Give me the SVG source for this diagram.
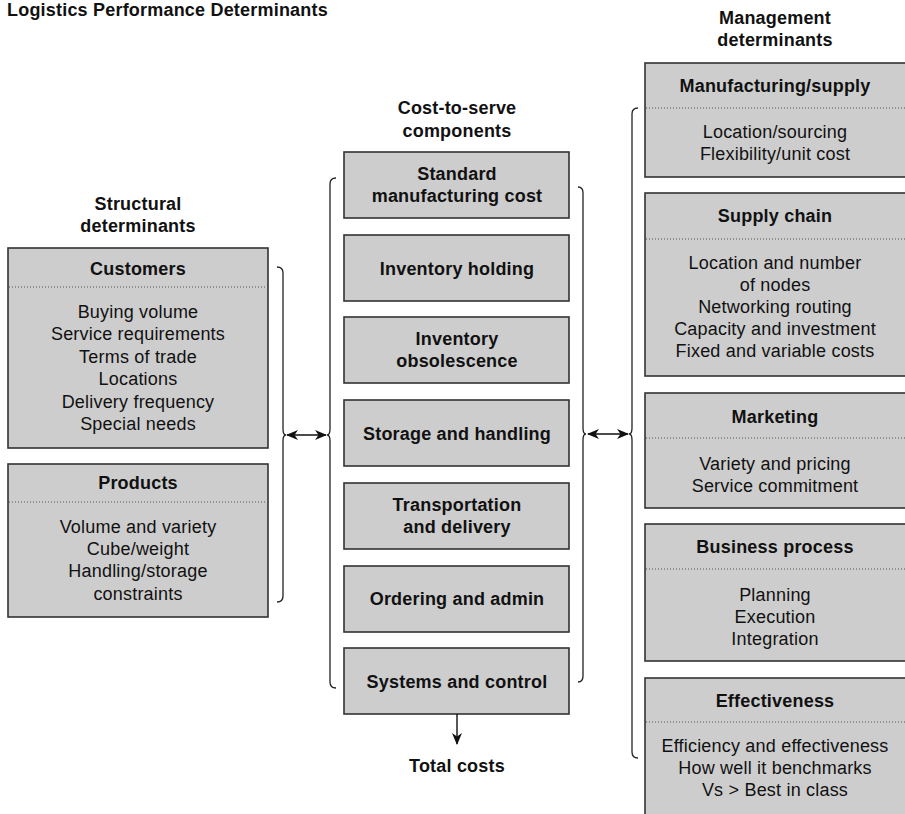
<svg xmlns="http://www.w3.org/2000/svg" width="905" height="814" viewBox="0 0 905 814">
<style>
text{font-family:"Liberation Sans",Arial,Helvetica,sans-serif;font-size:18px;letter-spacing:0.2px;fill:#111}
.b{font-weight:bold}
.c{text-anchor:middle}
.box{fill:#cdcdcd;stroke:#333;stroke-width:1.6}
.dot{stroke:#555;stroke-width:1;stroke-dasharray:1 2}
.br{fill:none;stroke:#222;stroke-width:1.3}
.ln{fill:none;stroke:#111;stroke-width:1.4}
</style>
<defs>
<marker id="ah" viewBox="0 0 12 10" refX="11" refY="5" markerWidth="12" markerHeight="10" markerUnits="userSpaceOnUse" orient="auto-start-reverse">
<path d="M0,0 L12,5 L0,10 L3.5,5 z" fill="#111"/>
</marker>
</defs>
<text class="b" x="7" y="16">Logistics Performance Determinants</text>
<g id="headings">
<text class="b c" x="138" y="210">Structural</text>
<text class="b c" x="138" y="232">determinants</text>
<text class="b c" x="457" y="114">Cost-to-serve</text>
<text class="b c" x="457" y="137">components</text>
<text class="b c" x="775" y="24">Management</text>
<text class="b c" x="775" y="46">determinants</text>
<text class="b c" x="457" y="772">Total costs</text>
</g>
<g id="customers">
<rect class="box" x="8" y="248" width="260" height="200"/>
<line class="dot" x1="9" y1="287" x2="267" y2="287"/>
<text class="b c" x="138" y="275">Customers</text>
<text class="c" x="138" y="318">Buying volume</text>
<text class="c" x="138" y="340">Service requirements</text>
<text class="c" x="138" y="363">Terms of trade</text>
<text class="c" x="138" y="385">Locations</text>
<text class="c" x="138" y="408">Delivery frequency</text>
<text class="c" x="138" y="430">Special needs</text>
</g>
<g id="products">
<rect class="box" x="8" y="464" width="260" height="153"/>
<line class="dot" x1="9" y1="502" x2="267" y2="502"/>
<text class="b c" x="138" y="489">Products</text>
<text class="c" x="138" y="533">Volume and variety</text>
<text class="c" x="138" y="555">Cube/weight</text>
<text class="c" x="138" y="577">Handling/storage</text>
<text class="c" x="138" y="600">constraints</text>
</g>
<g id="standard-manufacturing-cost">
<rect class="box" x="344" y="152" width="225" height="66"/>
<text class="b c" x="457" y="180">Standard</text>
<text class="b c" x="457" y="202">manufacturing cost</text>
</g>
<g id="inventory-holding">
<rect class="box" x="344" y="235" width="225" height="66"/>
<text class="b c" x="457" y="275">Inventory holding</text>
</g>
<g id="inventory-obsolescence">
<rect class="box" x="344" y="317" width="225" height="66"/>
<text class="b c" x="457" y="345">Inventory</text>
<text class="b c" x="457" y="367">obsolescence</text>
</g>
<g id="storage-and-handling">
<rect class="box" x="344" y="400" width="225" height="66"/>
<text class="b c" x="457" y="440">Storage and handling</text>
</g>
<g id="transportation-and-delivery">
<rect class="box" x="344" y="483" width="225" height="66"/>
<text class="b c" x="457" y="511">Transportation</text>
<text class="b c" x="457" y="533">and delivery</text>
</g>
<g id="ordering-and-admin">
<rect class="box" x="344" y="566" width="225" height="66"/>
<text class="b c" x="457" y="605">Ordering and admin</text>
</g>
<g id="systems-and-control">
<rect class="box" x="344" y="648" width="225" height="66"/>
<text class="b c" x="457" y="688">Systems and control</text>
</g>
<g id="manufacturing-supply">
<rect class="box" x="645" y="63" width="262" height="114"/>
<line class="dot" x1="646" y1="108" x2="905" y2="108"/>
<text class="b c" x="775" y="92">Manufacturing/supply</text>
<text class="c" x="775" y="138">Location/sourcing</text>
<text class="c" x="775" y="160">Flexibility/unit cost</text>
</g>
<g id="supply-chain">
<rect class="box" x="645" y="193" width="262" height="183"/>
<line class="dot" x1="646" y1="239" x2="905" y2="239"/>
<text class="b c" x="775" y="222">Supply chain</text>
<text class="c" x="775" y="269">Location and number</text>
<text class="c" x="775" y="291">of nodes</text>
<text class="c" x="775" y="313">Networking routing</text>
<text class="c" x="775" y="335">Capacity and investment</text>
<text class="c" x="775" y="357">Fixed and variable costs</text>
</g>
<g id="marketing">
<rect class="box" x="645" y="393" width="262" height="115"/>
<line class="dot" x1="646" y1="438" x2="905" y2="438"/>
<text class="b c" x="775" y="423">Marketing</text>
<text class="c" x="775" y="470">Variety and pricing</text>
<text class="c" x="775" y="492">Service commitment</text>
</g>
<g id="business-process">
<rect class="box" x="645" y="524" width="262" height="137"/>
<line class="dot" x1="646" y1="569" x2="905" y2="569"/>
<text class="b c" x="775" y="553">Business process</text>
<text class="c" x="775" y="601">Planning</text>
<text class="c" x="775" y="623">Execution</text>
<text class="c" x="775" y="645">Integration</text>
</g>
<g id="effectiveness">
<rect class="box" x="645" y="678" width="262" height="150"/>
<line class="dot" x1="646" y1="722" x2="905" y2="722"/>
<text class="b c" x="775" y="707">Effectiveness</text>
<text class="c" x="775" y="752">Efficiency and effectiveness</text>
<text class="c" x="775" y="774">How well it benchmarks</text>
<text class="c" x="775" y="796">Vs &gt; Best in class</text>
</g>
<g id="connectors">
<path class="br" d="M277,267 Q283,267 283,273 L283,429 Q283,435 286,435 Q283,435 283,441 L283,596 Q283,602 277,602"/>
<path class="br" d="M336,178 Q330,178 330,184 L330,429 Q330,435 327,435 Q330,435 330,441 L330,682 Q330,688 336,688"/>
<path class="br" d="M578,187 Q583,187 583,193 L583,428 Q583,434 586,434 Q583,434 583,440 L583,676 Q583,682 578,682"/>
<path class="br" d="M638,108 Q632,108 632,114 L632,428 Q632,434 629,434 Q632,434 632,440 L632,752 Q632,758 638,758"/>
<line class="ln" x1="287" y1="435" x2="326" y2="435" marker-start="url(#ah)" marker-end="url(#ah)"/>
<line class="ln" x1="588" y1="434" x2="628" y2="434" marker-start="url(#ah)" marker-end="url(#ah)"/>
<line class="ln" x1="457" y1="714" x2="457" y2="744" marker-end="url(#ah)"/>
</g>
</svg>
